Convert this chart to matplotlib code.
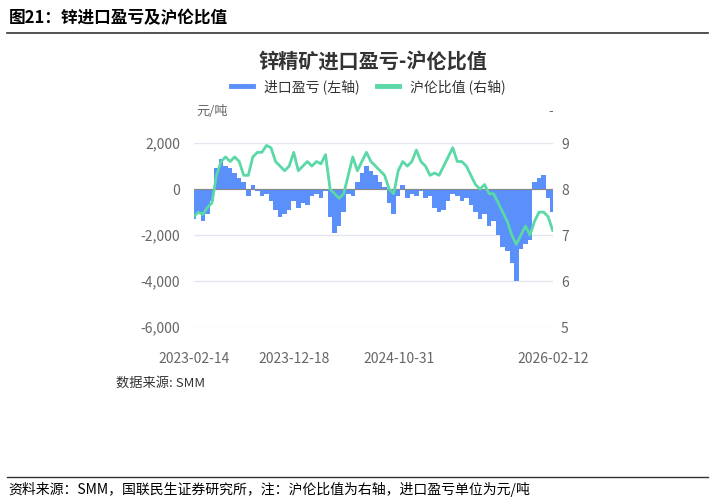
import matplotlib
matplotlib.use("Agg")
import matplotlib.pyplot as plt
import pandas as pd

plt.rcParams['font.family'] = ['Noto Sans CJK SC', 'DejaVu Sans']

# biweekly readings, 2023-02-14 .. 2026-02-12
profit = [-1300, -1000, -1400, -1100, -500, 900, 1300, 1000, 900, 700,
          500, 300, -300, 200, -100, -300, -200, -500, -900, -1200,
          -1100, -900, -500, -800, -600, -700, -300, -200, -400, -100,
          -1200, -1900, -1600, -1000, -200, -300, 300, 700, 1000, 800,
          600, 300, 100, -600, -1100, -300, 200, -400, -200, -300,
          -100, -400, -300, -800, -1000, -900, -500, -200, -300, -500,
          -400, -700, -1000, -1300, -1100, -1600, -1400, -2000, -2500, -2700,
          -3200, -4000, -2600, -2400, -2200, 300, 500, 600, -400, -1000]
ratio = [7.4, 7.5, 7.45, 7.6, 7.7, 8.3, 8.6, 8.7, 8.6, 8.7,
         8.6, 8.3, 8.3, 8.7, 8.8, 8.8, 8.95, 8.9, 8.6, 8.5,
         8.4, 8.5, 8.8, 8.4, 8.5, 8.6, 8.5, 8.6, 8.55, 8.75,
         8.0, 7.9, 7.8, 7.9, 8.3, 8.7, 8.4, 8.6, 8.8, 8.6,
         8.5, 8.4, 8.3, 8.0, 7.9, 8.4, 8.6, 8.5, 8.6, 8.85,
         8.6, 8.5, 8.3, 8.35, 8.3, 8.5, 8.7, 8.9, 8.6, 8.6,
         8.5, 8.3, 8.1, 8.0, 8.1, 7.9, 7.9, 7.7, 7.5, 7.3,
         7.0, 6.8, 7.0, 7.2, 7.0, 7.3, 7.5, 7.5, 7.4, 7.1]
dates = pd.date_range("2023-02-14", "2026-02-12", periods=len(profit))
tick_dates = pd.to_datetime(["2023-02-14", "2023-12-18", "2024-10-31", "2026-02-12"])

BLUE = "#5b8ff9"
GREEN = "#5ad8a6"
GRAY = "#666666"

fig = plt.figure(figsize=(7.15, 5.04), dpi=100)

fig.text(0.012, 0.965, "图21：锌进口盈亏及沪伦比值", fontsize=12, fontweight="bold", va="center")
fig.add_artist(plt.Line2D([0.01, 0.99], [0.935, 0.935], color="#333333", lw=1.2))
fig.add_artist(plt.Line2D([0.01, 0.99], [0.053, 0.053], color="#333333", lw=1.0))
fig.text(0.012, 0.028, "资料来源：SMM，国联民生证券研究所，注：沪伦比值为右轴，进口盈亏单位为元/吨",
         fontsize=10, va="center")
fig.text(0.162, 0.24, "数据来源: SMM", fontsize=9.5, va="center", color="#333333")
fig.text(0.522, 0.876, "锌精矿进口盈亏-沪伦比值", fontsize=14.5, fontweight="bold",
         ha="center", va="center", color="#333333")

ax = fig.add_axes([0.271, 0.351, 0.502, 0.365])
width = (dates[1] - dates[0])
ax.bar(dates, profit, width=width, color=BLUE, align="center", label="进口盈亏 (左轴)")
ax.axhline(0, color="#888888", lw=0.8)
ax.set_ylim(-6000, 2000)
ax.set_yticks([-6000, -4000, -2000, 0, 2000])
ax.set_yticklabels(["-6,000", "-4,000", "-2,000", "0", "2,000"])
ax.set_xlim(dates[0], dates[-1])
ax.set_xticks(tick_dates)
ax.set_xticklabels([d.strftime("%Y-%m-%d") for d in tick_dates])
ax.grid(axis="y", color="#e3e6ee", lw=1)
ax.set_axisbelow(True)
for s in ax.spines.values():
    s.set_visible(False)
ax.tick_params(length=0, colors=GRAY, labelsize=10)
ax.tick_params(axis="x", pad=18)
ax.tick_params(axis="y", pad=10)

ax2 = ax.twinx()
ax2.plot(dates, ratio, color=GREEN, lw=2, label="沪伦比值 (右轴)")
ax2.set_ylim(5, 9)
ax2.set_yticks([5, 6, 7, 8, 9])
for s in ax2.spines.values():
    s.set_visible(False)
ax2.tick_params(length=0, colors=GRAY, labelsize=10, pad=6)

fig.text(0.274, 0.778, "元/吨", fontsize=9.5, color=GRAY, va="center")
fig.text(0.767, 0.778, "-", fontsize=9.5, color=GRAY, va="center")

h1, l1 = ax.get_legend_handles_labels()
h2, l2 = ax2.get_legend_handles_labels()
h1 = [plt.Line2D([], [], color=BLUE, lw=3.5)]
h2 = [plt.Line2D([], [], color=GREEN, lw=3.5)]
fig.legend(h1 + h2, l1 + l2, loc="center", bbox_to_anchor=(0.515, 0.828), ncol=2,
           frameon=False, fontsize=10, handlelength=1.6, columnspacing=1.2,
           labelcolor="#333333")

fig.savefig("out.png", dpi=100)
